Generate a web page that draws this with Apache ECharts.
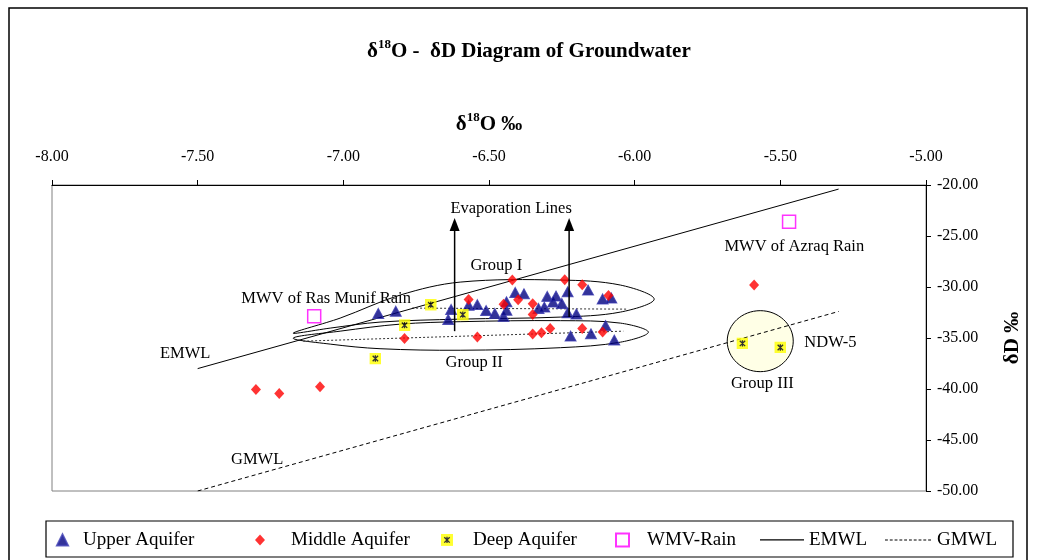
<!DOCTYPE html>
<html><head><meta charset="utf-8">
<script src="https://cdn.jsdelivr.net/npm/echarts@6/dist/echarts.min.js"></script>
<style>html,body{margin:0;padding:0;background:#fff}#main{width:1038px;height:560px}</style>
</head><body><div id="main"></div>
<script>
// ---- data (δ18O, δD) ----
const upperAquifer = [[-6.88,-32.59],[-6.82,-32.37],[-6.63,-32.20],[-6.64,-33.18],[-6.57,-31.78],[-6.54,-31.73],[-6.51,-32.30],[-6.48,-32.59],[-6.45,-32.88],[-6.44,-32.27],[-6.44,-31.45],[-6.41,-30.53],[-6.38,-30.67],[-6.33,-32.10],[-6.31,-31.97],[-6.30,-30.92],[-6.28,-31.48],[-6.27,-30.89],[-6.25,-31.61],[-6.23,-30.47],[-6.23,-32.53],[-6.20,-32.64],[-6.16,-30.30],[-6.11,-31.17],[-6.08,-31.07],[-6.22,-34.80],[-6.15,-34.59],[-6.10,-33.77],[-6.07,-35.20]];
const middleAquifer = [[-7.30,-40.05],[-7.22,-40.44],[-7.08,-39.79],[-6.79,-35.04],[-6.57,-31.22],[-6.54,-34.89],[-6.45,-31.68],[-6.42,-29.32],[-6.40,-31.24],[-6.35,-31.63],[-6.35,-32.69],[-6.35,-34.62],[-6.32,-34.49],[-6.29,-34.08],[-6.24,-29.29],[-6.18,-29.79],[-6.18,-34.06],[-6.11,-34.40],[-6.09,-30.84],[-5.59,-29.81]];
const deepAquifer = [[-6.89,-37.01],[-6.79,-33.74],[-6.70,-31.73],[-6.59,-32.71],[-5.63,-35.53],[-5.50,-35.93]];
const wmvRain = [[-7.10,-32.86],[-5.47,-23.60]];
const emwl = [[-7.5,-38.0],[-5.3,-20.4]];
const gmwl = [[-7.5,-50.0],[-5.3,-32.4]];
const seriesNames = ['Upper Aquifer','Middle Aquifer','Deep Aquifer','WMV-Rain','EMWL','GMWL'];

// ---- annotations (data coordinates) ----
const labels = [
  ['Evaporation Lines', -6.424, -22.36],
  ['Group I', -6.475, -27.95],
  ['Group II', -6.551, -37.42],
  ['MWV of Ras Munif Rain', -7.059, -31.19],
  ['EMWL', -7.543, -36.49],
  ['GMWL', -7.296, -46.89],
  ['MWV of Azraq Rain', -5.452, -26.04],
  ['NDW-5', -5.328, -35.48],
  ['Group III', -5.562, -39.43]
];
const groupIOutline = [[-7.172,-34.52],[-7.011,-33.05],[-6.805,-30.79],[-6.599,-29.52],[-6.255,-29.32],[-6.049,-29.81],[-5.933,-31.19],[-6.049,-32.46],[-6.255,-32.95],[-6.599,-33.15],[-6.874,-33.44],[-7.045,-34.03]];
const groupIIOutline = [[-7.172,-35.01],[-7.011,-34.33],[-6.805,-33.64],[-6.599,-33.40],[-6.255,-33.30],[-6.049,-33.54],[-5.953,-34.43],[-6.049,-35.41],[-6.255,-35.95],[-6.599,-36.20],[-6.874,-36.05],[-7.045,-35.60]];
const groupIIICircle = {x:-5.569, y:-35.31, rx:0.1133, ry:2.99};
const dottedLines = [[[-6.764,-32.07],[-6.025,-32.17]], [[-7.138,-35.31],[-6.039,-34.33]]];
const evapArrows = [[-6.618,-34.33,-23.24],[-6.225,-32.95,-23.24]];

const FONT = '"Liberation Serif","Times New Roman",serif';
const deepSvg = "<svg xmlns='http://www.w3.org/2000/svg' width='12' height='12'><rect width='12' height='12' fill='#FFFF00'/><path d='M3.3 3.3L8.7 8.7M8.7 3.3L3.3 8.7M6 2.8V9.2' stroke='#000' stroke-width='1.3'/></svg>";
const deepIcon = 'image://data:image/svg+xml;charset=utf-8,' + encodeURIComponent(deepSvg);
let dashPath = 'path://';
for (let i = 0; i < 46; i += 5) dashPath += 'M' + i + ',0h3v1h-3z';

const chart = echarts.init(document.getElementById('main'));
const richT = (size) => ({
  d:{fontFamily:FONT, fontWeight:'bold', fontSize:size, color:'#000', verticalAlign:'bottom', lineHeight:size+3},
  s:{fontFamily:FONT, fontWeight:'bold', fontSize:Math.round(size*0.62), color:'#000', verticalAlign:'top'}
});
const LTOP = 530.4;
function leg(name, icon, left, w, h, pad){
  return {data:[{name:name, icon:icon}], left:left, top:LTOP, itemWidth:w, itemHeight:h, padding:0, selectedMode:false,
    textStyle:{fontFamily:FONT, fontSize:19, color:'#000', padding:[0,0,0,pad]}};
}

const option = {
  animation:false,
  backgroundColor:'#fff',
  title:{text:'{d|δ}{s|18}{d|O -  δD Diagram of Groundwater}', left:367, top:38, padding:0, textStyle:{rich:richT(21)}},
  grid:{left:52, right:112, top:185, bottom:69, show:true, borderColor:'#808080', borderWidth:1},
  xAxis:{type:'value', position:'top', min:-8, max:-5, interval:0.5,
    axisLine:{show:true, onZero:false, lineStyle:{color:'#000', width:1}},
    axisTick:{show:true, length:5, lineStyle:{color:'#000'}},
    splitLine:{show:false},
    axisLabel:{formatter:v=>v.toFixed(2), fontFamily:FONT, fontSize:16, color:'#000', margin:20},
    name:'{d|δ}{s|18}{d|O ‰}', nameLocation:'middle', nameGap:50, nameTextStyle:{rich:richT(21)}},
  yAxis:{type:'value', position:'right', min:-50, max:-20, interval:5,
    axisLine:{show:true, onZero:false, lineStyle:{color:'#000', width:1}},
    axisTick:{show:true, length:5, lineStyle:{color:'#000'}},
    splitLine:{show:false},
    axisLabel:{formatter:v=>v.toFixed(2), fontFamily:FONT, fontSize:16, color:'#000', margin:11},
    name:'δD ‰', nameLocation:'middle', nameRotate:90, nameGap:76,
    nameTextStyle:{fontFamily:FONT, fontWeight:'bold', fontSize:21, color:'#000'}},
  legend:[
    leg('Upper Aquifer','triangle',56,11,11,10),
    leg('Middle Aquifer','diamond',255,10,11,21),
    leg('Deep Aquifer',deepIcon,441,12,12,15),
    leg('WMV-Rain','rect',615,13,13,13),
    leg('EMWL','rect',760,44,1.2,0),
    leg('GMWL',dashPath,885,46,1.2,1)
  ],
  series:[
    {name:seriesNames[0], type:'scatter', data:upperAquifer, symbol:'triangle', symbolSize:[11,10], itemStyle:{color:'#000080', borderColor:'#3a3ab0', borderWidth:1}, z:4},
    {name:seriesNames[1], type:'scatter', data:middleAquifer, symbol:'diamond', symbolSize:[10,11], itemStyle:{color:'#FF0000'}, z:5},
    {name:seriesNames[2], type:'scatter', data:deepAquifer, symbol:deepIcon, symbolSize:[12,12], z:5},
    {name:seriesNames[3], type:'scatter', data:wmvRain, symbol:'rect', symbolSize:13, itemStyle:{color:'#fff', borderColor:'#FF00FF', borderWidth:1.5}, z:5},
    {name:seriesNames[4], type:'line', data:emwl, symbol:'none', lineStyle:{color:'#000', width:1}, itemStyle:{color:'#000'}, z:3},
    {name:seriesNames[5], type:'line', data:gmwl, symbol:'none', lineStyle:{color:'#000', width:1, type:[4,3]}, itemStyle:{color:'#000'}, z:3}
  ]
};
chart.setOption(option);

const P = (x,y) => chart.convertToPixel({xAxisIndex:0, yAxisIndex:0}, [x,y]);
const g = [];
g.push({type:'rect', shape:{x:9, y:8, width:1018, height:570}, style:{fill:'none', stroke:'#000', lineWidth:1.5}, z:0, silent:true});
g.push({type:'rect', shape:{x:46, y:521, width:967, height:36}, style:{fill:'none', stroke:'#000', lineWidth:1.2}, z:0, silent:true});
{
  const c = P(groupIIICircle.x, groupIIICircle.y);
  const e = P(groupIIICircle.x + groupIIICircle.rx, groupIIICircle.y + groupIIICircle.ry);
  g.push({type:'ellipse', shape:{cx:c[0], cy:c[1], rx:Math.abs(e[0]-c[0]), ry:Math.abs(e[1]-c[1])}, style:{fill:'#FFFFE6', stroke:'#000', lineWidth:1}, z:1, silent:true});
}
[groupIOutline, groupIIOutline].forEach(pts => {
  g.push({type:'polygon', shape:{points:pts.map(p=>P(p[0],p[1])), smooth:0.35}, style:{fill:'none', stroke:'#000', lineWidth:1}, z:1, silent:true});
});
dottedLines.forEach(l => {
  const a = P(l[0][0], l[0][1]), b = P(l[1][0], l[1][1]);
  g.push({type:'line', shape:{x1:a[0], y1:a[1], x2:b[0], y2:b[1]}, style:{stroke:'#333', lineWidth:1, lineDash:[2,2]}, z:1, silent:true});
});
evapArrows.forEach(a => {
  const b = P(a[0], a[1]), t = P(a[0], a[2]);
  g.push({type:'line', shape:{x1:b[0], y1:b[1], x2:t[0], y2:t[1]+10}, style:{stroke:'#000', lineWidth:1.5}, z:6, silent:true});
  g.push({type:'polygon', shape:{points:[[t[0], t[1]], [t[0]-5, t[1]+13], [t[0]+5, t[1]+13]]}, style:{fill:'#000'}, z:6, silent:true});
});
labels.forEach(l => {
  const p = P(l[1], l[2]);
  g.push({type:'text', x:p[0], y:p[1], style:{text:l[0], font:'16.5px ' + FONT, fill:'#000', textAlign:'center', textVerticalAlign:'middle', align:'center', verticalAlign:'middle'}, z:7, silent:true});
});
chart.setOption({graphic:{elements:g}});
</script>
</body></html>
